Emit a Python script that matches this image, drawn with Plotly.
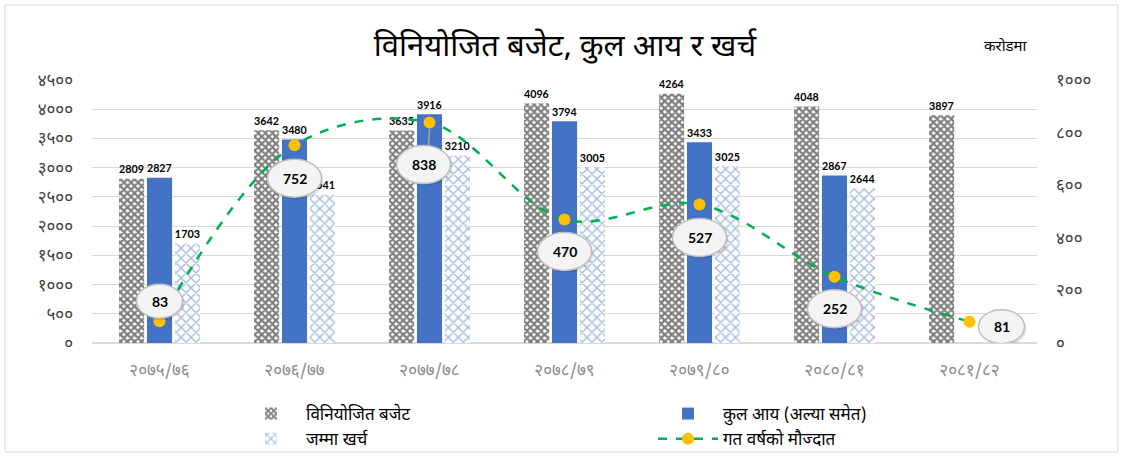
import plotly.graph_objects as go

categories = ["२०७५/७६", "२०७६/७७", "२०७७/७८", "२०७८/७९", "२०७९/८०", "२०८०/८१", "२०८१/८२"]
budget = [2809, 3642, 3635, 4096, 4264, 4048, 3897]
revenue = [2827, 3480, 3916, 3794, 3433, 2867, None]
expenditure = [1703, 2541, 3210, 3005, 3025, 2644, None]
balance = [83, 752, 838, 470, 527, 252, 81]

left_tickvals = [0, 500, 1000, 1500, 2000, 2500, 3000, 3500, 4000, 4500]
left_ticktext = ["०", "५००", "१०००", "१५००", "२०००", "२५००", "३०००", "३५००", "४०००", "४५००"]
right_tickvals = [0, 200, 400, 600, 800, 1000]
right_ticktext = ["०", "२००", "४००", "६००", "८००", "१०००"]

names = ["विनियोजित बजेट", "कुल आय (अल्या समेत)", "जम्मा खर्च", "गत वर्षको मौज्दात"]
title_text = "विनियोजित बजेट, कुल आय र खर्च"
unit_text = "करोडमा"

# label offsets for the balance callouts (pixels: dx right, dy down)
label_dx = [0, 0, -6, 0, 0, 0, 32]
label_dy = [-20, 33, 42, 32, 33, 32, 5]

DEV = "Noto Sans Devanagari, Mangal, Kalimati, Noto Sans, sans-serif"
NUM = "Lato, Open Sans, Liberation Sans, sans-serif"

fig = go.Figure()

fig.add_trace(go.Bar(
    x=categories, y=budget, name=names[0],
    marker=dict(color="white", line=dict(width=0),
                pattern=dict(shape="x", fgcolor="black", bgcolor="white", size=5, solidity=0.7)),
    text=[str(v) for v in budget], textposition="outside", cliponaxis=False,
    textfont=dict(family=NUM, size=13, color="black", weight="bold"),
))
fig.add_trace(go.Bar(
    x=categories, y=revenue, name=names[1],
    marker=dict(color="#4472C4", line=dict(width=0)),
    text=[str(v) if v is not None else "" for v in revenue], textposition="outside", cliponaxis=False,
    textfont=dict(family=NUM, size=13, color="black", weight="bold"),
))
fig.add_trace(go.Bar(
    x=categories, y=expenditure, name=names[2],
    marker=dict(color="white", line=dict(width=0),
                pattern=dict(shape="x", fgcolor="#4472C4", bgcolor="white", size=7, solidity=0.35)),
    text=[str(v) if v is not None else "" for v in expenditure], textposition="outside", cliponaxis=False,
    textfont=dict(family=NUM, size=13, color="black", weight="bold"),
))
fig.add_trace(go.Scatter(
    x=categories, y=balance, name=names[3], yaxis="y2",
    mode="lines+markers",
    line=dict(color="#00B050", width=2.5, dash="dash", shape="spline", smoothing=1.0),
    marker=dict(color="#FFC000", size=12, line=dict(width=0)),
    cliponaxis=False,
))

shapes = []
annotations = []
for i, v in enumerate(balance):
    dx = label_dx[i]
    dy = label_dy[i]
    w = 27 if v >= 100 else 23
    h = 19 if v >= 100 else 17
    # shadow
    shapes.append(dict(type="circle", xref="x", yref="y2", xsizemode="pixel", ysizemode="pixel",
                       xanchor=i, yanchor=v,
                       x0=dx - w + 2, x1=dx + w + 2, y0=-dy - h - 2, y1=-dy + h - 2,
                       fillcolor="rgba(0,0,0,0.12)", line=dict(width=0), layer="above"))
    shapes.append(dict(type="circle", xref="x", yref="y2", xsizemode="pixel", ysizemode="pixel",
                       xanchor=i, yanchor=v,
                       x0=dx - w, x1=dx + w, y0=-dy - h, y1=-dy + h,
                       fillcolor="#F4F4F4", line=dict(color="#BFBFBF", width=1.5), layer="above"))
    annotations.append(dict(x=i, y=v, xref="x", yref="y2", text="<b>%d</b>" % v, showarrow=False,
                            xshift=dx, yshift=-dy, font=dict(family=NUM, size=14, color="black")))

# leader line for the 838 callout
shapes.insert(0, dict(type="line", xref="x", yref="y2", xsizemode="pixel", ysizemode="pixel",
                      xanchor=2, yanchor=balance[2], x0=0, y0=-6, x1=-1, y1=-23,
                      line=dict(color="#A6A6A6", width=1.5), layer="above"))

# outer chart border
shapes.append(dict(type="rect", xref="paper", yref="paper",
                   x0=(5 - 92) / 945, x1=(1118 - 92) / 945,
                   y0=(343 - 452) / 263, y1=(343 - 5) / 263,
                   line=dict(color="#D9D9D9", width=1), fillcolor="rgba(0,0,0,0)", layer="below"))

annotations.append(dict(x=(1030 - 92) / 945, y=(343 - 36) / 263, xref="paper", yref="paper",
                        text=unit_text, showarrow=False, font=dict(family=DEV, size=15, color="black")))

fig.update_layout(
    width=1123, height=457,
    margin=dict(l=92, r=86, t=80, b=114, autoexpand=False),
    paper_bgcolor="white", plot_bgcolor="white",
    title=dict(text=title_text, x=565 / 1123, xanchor="center",
               y=1 - 45 / 457, yanchor="middle",
               font=dict(family=DEV, size=31, color="black")),
    barmode="group", bargap=0.38, bargroupgap=0.1,
    xaxis=dict(type="category", showgrid=False, showline=False, ticks="",
               tickfont=dict(family=DEV, size=17, color="#8C8C8C"), ticklabelstandoff=15),
    yaxis=dict(range=[0, 4500], tickvals=left_tickvals, ticktext=left_ticktext,
               showgrid=True, gridcolor="#D9D9D9", gridwidth=1, zeroline=True, zerolinecolor="#D9D9D9",
               showline=False, ticks="", ticklabelstandoff=18,
               tickfont=dict(family=DEV, size=17, color="#404040")),
    yaxis2=dict(range=[0, 1000], tickvals=right_tickvals, ticktext=right_ticktext,
                overlaying="y", side="right", showgrid=False, zeroline=False, showline=False, ticks="",
                ticklabelstandoff=18, tickfont=dict(family=DEV, size=17, color="#404040")),
    legend=dict(orientation="h", x=(236 - 92) / 945, y=(343 - 396) / 263, xanchor="left", yanchor="top",
                entrywidth=342, entrywidthmode="pixels", traceorder="normal",
                font=dict(family=DEV, size=17, color="black"), itemwidth=60,
                bgcolor="rgba(0,0,0,0)", tracegroupgap=0),
    shapes=shapes, annotations=annotations,
    showlegend=True,
)

fig.write_html("out.html", config={"displayModeBar": False},
               post_script="document.body.style.margin='0';document.body.style.overflow='hidden';")
